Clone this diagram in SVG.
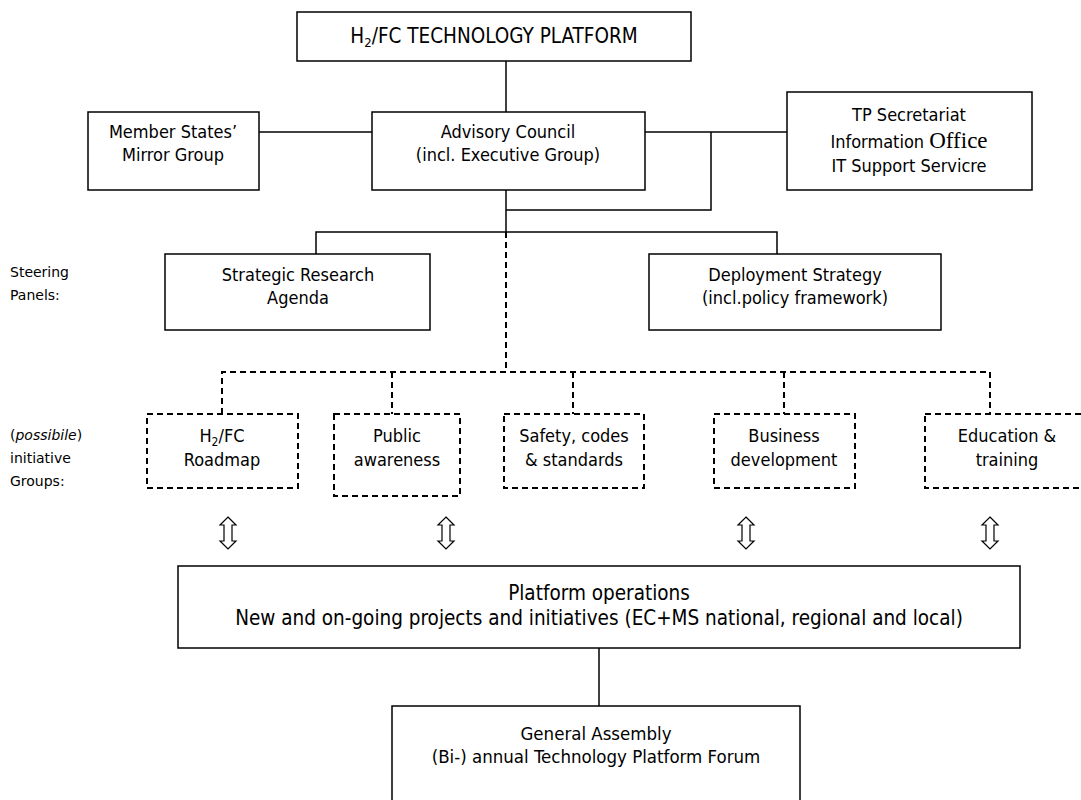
<svg xmlns="http://www.w3.org/2000/svg" width="1081" height="800" viewBox="0 0 1081 800">
  <style>
    .box { fill: #fff; stroke: #000; stroke-width: 1.5; }
    .dbox { fill: #fff; stroke: #000; stroke-width: 2; stroke-dasharray: 6 4; }
    .ln { fill: none; stroke: #000; stroke-width: 1.5; }
    .dln { fill: none; stroke: #000; stroke-width: 2; stroke-dasharray: 6 4; }
    .arr { fill: #fff; stroke: #000; stroke-width: 1.2; }
    text { font-family: "DejaVu Sans Condensed", "DejaVu Sans", sans-serif; font-size: 18px; fill: #000; }
    .c { text-anchor: middle; }
    .side { font-family: "DejaVu Sans", sans-serif; font-size: 14px; }
    .title { font-size: 20.5px; }
    tspan.serif { font-family: "Liberation Serif", "Times New Roman", serif; font-size: 23px; }
    .ops { font-size: 20.5px; }
    .ga { font-size: 18.5px; }
  </style>

  <!-- connectors -->
  <g id="connectors">
    <path class="ln" d="M506 61 V112"/>
    <path class="ln" d="M259 132 H372"/>
    <path class="ln" d="M645 132 H787"/>
    <path class="ln" d="M711 132 V210 H506"/>
    <path class="ln" d="M506 190 V232"/>
    <path class="ln" d="M316 254 V232 H777 V254"/>
    <path class="dln" d="M506 232 V372"/>
    <path class="dln" d="M222 414 V372 H990 V414"/>
    <path class="dln" d="M392 372 V414"/>
    <path class="dln" d="M573 372 V414"/>
    <path class="dln" d="M784 372 V414"/>
    <path class="ln" d="M599 648 V706"/>
  </g>

  <!-- top -->
  <g id="platform">
    <rect class="box" x="297" y="12" width="394" height="49"/>
    <text class="c title" x="494" y="43">H<tspan dy="4" style="font-size:13px">2</tspan><tspan dy="-4">/FC TECHNOLOGY PLATFORM</tspan></text>
  </g>

  <g id="mirror-group">
    <rect class="box" x="88" y="112" width="171" height="78"/>
    <text class="c" x="173" y="138">Member States’</text>
    <text class="c" x="173" y="161">Mirror Group</text>
  </g>

  <g id="advisory-council">
    <rect class="box" x="372" y="112" width="273" height="78"/>
    <text class="c" x="508" y="138">Advisory Council</text>
    <text class="c" x="508" y="161">(incl. Executive Group)</text>
  </g>

  <g id="secretariat">
    <rect class="box" x="787" y="92" width="245" height="98"/>
    <text class="c" x="909" y="121">TP Secretariat</text>
    <text class="c" x="909" y="148">Information <tspan class="serif">Office</tspan></text>
    <text class="c" x="909" y="172">IT Support Servicre</text>
  </g>

  <!-- steering panels -->
  <text class="side" x="10" y="277">Steering</text>
  <text class="side" x="10" y="300">Panels:</text>

  <g id="sra">
    <rect class="box" x="165" y="254" width="265" height="76"/>
    <text class="c" x="298" y="281">Strategic Research</text>
    <text class="c" x="298" y="304">Agenda</text>
  </g>

  <g id="deployment">
    <rect class="box" x="649" y="254" width="292" height="76"/>
    <text class="c" x="795" y="281">Deployment Strategy</text>
    <text class="c" x="795" y="304">(incl.policy framework)</text>
  </g>

  <!-- initiative groups -->
  <text class="side" x="10" y="440">(<tspan font-style="italic">possibile</tspan>)</text>
  <text class="side" x="10" y="463">initiative</text>
  <text class="side" x="10" y="486">Groups:</text>

  <g id="roadmap">
    <rect class="dbox" x="147" y="414" width="151" height="74"/>
    <text class="c" x="222" y="442">H<tspan dy="4" style="font-size:12px">2</tspan><tspan dy="-4">/FC</tspan></text>
    <text class="c" x="222" y="466">Roadmap</text>
  </g>

  <g id="public-awareness">
    <rect class="dbox" x="334" y="414" width="126" height="82"/>
    <text class="c" x="397" y="442">Public</text>
    <text class="c" x="397" y="466">awareness</text>
  </g>

  <g id="safety">
    <rect class="dbox" x="504" y="414" width="140" height="74"/>
    <text class="c" x="574" y="442">Safety, codes</text>
    <text class="c" x="574" y="466">&amp; standards</text>
  </g>

  <g id="business">
    <rect class="dbox" x="714" y="414" width="141" height="74"/>
    <text class="c" x="784" y="442">Business</text>
    <text class="c" x="784" y="466">development</text>
  </g>

  <g id="education">
    <rect class="dbox" x="925" y="414" width="160" height="74"/>
    <text class="c" x="1007" y="442">Education &amp;</text>
    <text class="c" x="1007" y="466">training</text>
  </g>

  <!-- two-way arrows -->
  <defs>
    <path id="dbl" class="arr" d="M0 -16 L8 -8 H4 V8 H8 L0 16 L-8 8 H-4 V-8 H-8 Z"/>
  </defs>
  <g id="arrows">
    <use href="#dbl" x="228" y="533"/>
    <use href="#dbl" x="446" y="533"/>
    <use href="#dbl" x="746" y="533"/>
    <use href="#dbl" x="990" y="533"/>
  </g>

  <g id="operations">
    <rect class="box" x="178" y="566" width="842" height="82"/>
    <text class="c ops" x="599" y="600">Platform operations</text>
    <text class="c ops" x="599" y="625">New and on-going projects and initiatives (EC+MS national, regional and local)</text>
  </g>

  <g id="general-assembly">
    <rect class="box" x="392" y="706" width="408" height="100"/>
    <text class="c ga" x="596" y="740">General Assembly</text>
    <text class="c ga" x="596" y="763">(Bi-) annual Technology Platform Forum</text>
  </g>
</svg>
